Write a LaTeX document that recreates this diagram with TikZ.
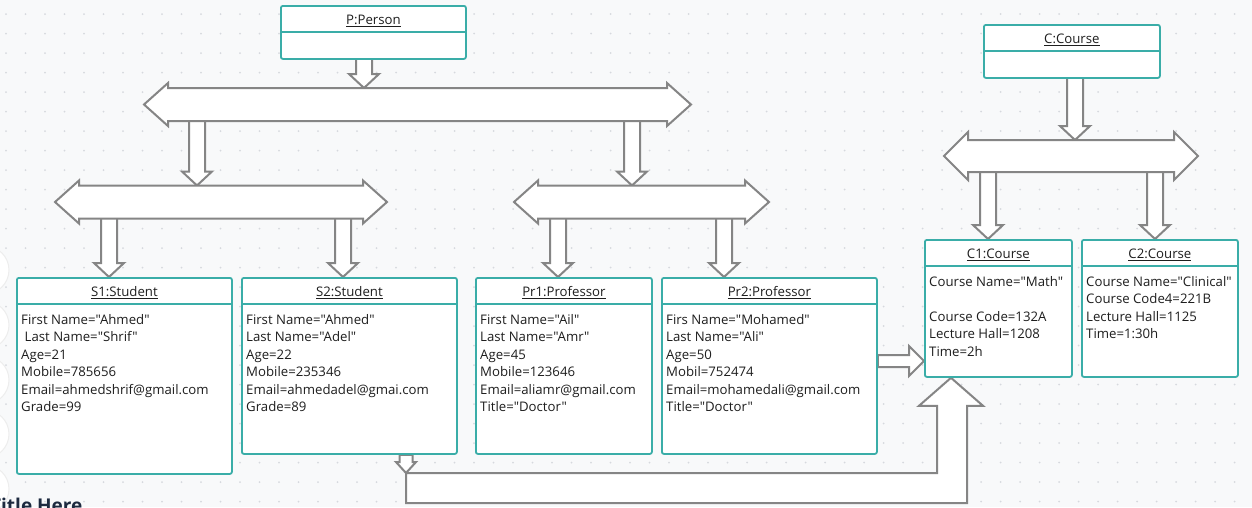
\documentclass[tikz,border=0pt]{standalone}
\usepackage{fontspec}
\setmainfont{Open Sans}[Ligatures=TeXOff]
\usepackage{xcolor}
\definecolor{objteal}{HTML}{3AADA8}
\definecolor{arrowgray}{HTML}{858585}
\definecolor{ink}{HTML}{1E1E1E}
\definecolor{canvas}{HTML}{F8F9FA}
\definecolor{griddot}{HTML}{D6D9DE}
\definecolor{titleink}{HTML}{1D2A3F}
\usepackage{tikz}
\usetikzlibrary{calc}
\pgfdeclarelayer{background}
\pgfdeclarelayer{links}
\pgfsetlayers{background,links,main}

\newcommand{\bodyfont}{\fontsize{13.2}{17.5}\selectfont}

% hollow block arrow pointing down, at abscissa #1, from #2 to #3
\newcommand{\downblock}[3]{%
	\draw[blockarrow] let \p1=(#1,0 |- #2), \p2=(#1,0 |- #3) in
		(\x1-8,\y1) -- (\x1-8,\y2+14) -- (\x1-15,\y2+14) -- (\p2)
		-- (\x1+15,\y2+14) -- (\x1+8,\y2+14) -- (\x1+8,\y1) -- cycle;
}

% two-headed junction bar: name, centre, shaft length, shaft half height, head extend
\newcommand{\dblbar}[5]{%
	\node[bar, minimum width=#3, minimum height=2*#4] (#1) at (#2) {};
	\draw[blockarrow] let \p1=(#1.west), \p2=(#1.east) in
		(\x1,\y1+#4) -- (\x2,\y2+#4) -- (\x2,\y2+#4+#5) -- (\x2+24,\y2)
		-- (\x2,\y2-#4-#5) -- (\x2,\y2-#4) -- (\x1,\y1-#4) -- (\x1,\y1-#4-#5)
		-- (\x1-24,\y1) -- (\x1,\y1+#4+#5) -- cycle;
}

\begin{document}
\begin{tikzpicture}[
		x=1pt, y=-1pt,
		obj/.style={
			draw=objteal,
			line width=1.8pt,
			fill=white,
			rounded corners=2pt,
			anchor=north west,
			inner sep=0
		},
		objline/.style={
			draw=objteal,
			line width=1.8pt
		},
		objtitle/.style={
			anchor=base,
			inner sep=0,
			font=\bodyfont,
			text=ink
		},
		objtext/.style={
			anchor=north west,
			inner sep=0,
			align=left,
			font=\bodyfont,
			text=ink
		},
		bar/.style={
			inner sep=0,
			outer sep=0
		},
		blockarrow/.style={
			draw=arrowgray,
			line width=2pt,
			fill=white
		}
	]
	\useasboundingbox (0,0) rectangle (1252,507);

	% Canvas with dot grid
	\begin{pgfonlayer}{background}
		\fill[canvas] (0,0) rectangle (1252,507);
		\foreach \i in {0,...,63}
			\foreach \j in {0,...,25}
				\fill[griddot] (6+19.5*\i,14+19.5*\j) circle (1);
		\foreach \cy in {270,325,380,434,489}
			\draw[black!7, fill=white, line width=1pt] (-15,\cy) circle (24);
	\end{pgfonlayer}

	% Class objects
	\node[obj, minimum width=185, minimum height=53] (p) at (280,5) {};
	\node[objtitle] (p-title) at ([yshift=-19.5]p.north) {\underline{P:Person}};
	\draw[objline] ([yshift=-27]p.north west) -- ([yshift=-27]p.north east);

	\node[obj, minimum width=176, minimum height=53] (c) at (983,24) {};
	\node[objtitle] (c-title) at ([yshift=-19.5]c.north) {\underline{C:Course}};
	\draw[objline] ([yshift=-27]c.north west) -- ([yshift=-27]c.north east);

	% Junction bars
	\dblbar{dbl1}{417.5,104.5}{499}{16.5}{5}
	\dblbar{dbl2}{221,202}{284}{16.5}{5}
	\dblbar{dbl3}{641.5,202}{207}{16.5}{5}
	\dblbar{dbl4}{1071,156}{206}{16}{8}

	% Students
	\node[obj, minimum width=215, minimum height=196] (s1) at (16,277) {};
	\node[objtitle] (s1-title) at ([yshift=-19.5]s1.north) {\underline{S1:Student}};
	\draw[objline] ([yshift=-27]s1.north west) -- ([yshift=-27]s1.north east);
	\node[objtext] (s1-text) at ([xshift=5,yshift=-37]s1.north west) {%
		First Name="Ahmed"\\
		\hspace{3.5pt}Last Name="Shrif"\\
		Age=21\\
		Mobile=785656\\
		Email=ahmedshrif@gmail.com\\
		Grade=99
	};

	\node[obj, minimum width=215, minimum height=176] (s2) at (241,277) {};
	\node[objtitle] (s2-title) at ([yshift=-19.5]s2.north) {\underline{S2:Student}};
	\draw[objline] ([yshift=-27]s2.north west) -- ([yshift=-27]s2.north east);
	\node[objtext] (s2-text) at ([xshift=5,yshift=-37]s2.north west) {%
		First Name="Ahmed"\\
		Last Name="Adel"\\
		Age=22\\
		Mobile=235346\\
		Email=ahmedadel@gmai.com\\
		Grade=89
	};

	% Professors
	\node[obj, minimum width=176, minimum height=176] (pr1) at (475,277) {};
	\node[objtitle] (pr1-title) at ([yshift=-19.5]pr1.north) {\underline{Pr1:Professor}};
	\draw[objline] ([yshift=-27]pr1.north west) -- ([yshift=-27]pr1.north east);
	\node[objtext] (pr1-text) at ([xshift=5,yshift=-37]pr1.north west) {%
		First Name="Ail"\\
		Last Name="Amr"\\
		Age=45\\
		Mobile=123646\\
		Email=aliamr@gmail.com\\
		Title="Doctor"
	};

	\node[obj, minimum width=215, minimum height=176] (pr2) at (661,277) {};
	\node[objtitle] (pr2-title) at ([yshift=-19.5]pr2.north) {\underline{Pr2:Professor}};
	\draw[objline] ([yshift=-27]pr2.north west) -- ([yshift=-27]pr2.north east);
	\node[objtext] (pr2-text) at ([xshift=5,yshift=-37]pr2.north west) {%
		Firs Name="Mohamed"\\
		Last Name="Ali"\\
		Age=50\\
		Mobil=752474\\
		Email=mohamedali@gmail.com\\
		Title="Doctor"
	};

	% Courses
	\node[obj, minimum width=147, minimum height=137] (c1) at (924,239) {};
	\node[objtitle] (c1-title) at ([yshift=-19.5]c1.north) {\underline{C1:Course}};
	\draw[objline] ([yshift=-27]c1.north west) -- ([yshift=-27]c1.north east);
	\node[objtext] (c1-text) at ([xshift=5,yshift=-37]c1.north west) {%
		Course Name="Math"\\[17.5pt]
		Course Code=132A\\
		Lecture Hall=1208\\
		Time=2h
	};

	\node[obj, minimum width=156, minimum height=137] (c2) at (1081,239) {};
	\node[objtitle] (c2-title) at ([yshift=-19.5]c2.north) {\underline{C2:Course}};
	\draw[objline] ([yshift=-27]c2.north west) -- ([yshift=-27]c2.north east);
	\node[objtext] (c2-text) at ([xshift=5,yshift=-37]c2.north west) {%
		Course Name="Clinical"\\
		Course Code4=221B\\
		Lecture Hall=1125\\
		Time=1:30h
	};

	\node[anchor=north west, inner sep=0, font=\bfseries\fontsize{19}{22}\selectfont,
		text=titleink] (page-title) at (-10,498) {Title Here};

	% Block arrows
	\coordinate (turn) at (406,473);
	\begin{pgfonlayer}{links}
		\downblock{364}{p.center}{dbl1.north}
		\downblock{197}{dbl1.center}{dbl2.north}
		\downblock{632}{dbl1.center}{dbl3.north}
		\downblock{109}{dbl2.center}{s1.north}
		\downblock{343}{dbl2.center}{s2.north}
		\downblock{558}{dbl3.center}{pr1.north}
		\downblock{724}{dbl3.center}{pr2.north}
		\downblock{1075}{c.center}{dbl4.north}
		\downblock{988}{dbl4.center}{c1.north}
		\downblock{1155}{dbl4.center}{c2.north}

		\draw[blockarrow] let \p1=(pr2.east |- 0,361), \p2=(c1.west |- 0,361) in
			(\x1,\y1+6) -- (\x2-15,\y1+6) -- (\x2-15,\y1+15) -- (\p2)
			-- (\x2-15,\y1-15) -- (\x2-15,\y1-6) -- (\x1,\y1-6) -- cycle;

		\draw[blockarrow] let \p1=(turn), \p2=(951,0 |- c1.south) in
			(\p1) -- (\x2-14,\y1) -- (\x2-14,\y2-28) -- (\x2-32,\y2-28) -- (\p2)
			-- (\x2+32,\y2-28) -- (\x2+16,\y2-28) -- (\x2+16,\y1-30) -- (\x1,\y1-30) -- cycle;
		\draw[blockarrow] let \p1=(turn |- s2.south), \p2=(turn) in
			(\x1-6.5,\y1) -- (\x1-6.5,\y2+11) -- (\x1-10,\y2+11) -- (\p2)
			-- (\x1+10,\y2+11) -- (\x1+6.5,\y2+11) -- (\x1+6.5,\y1) -- cycle;
	\end{pgfonlayer}

\end{tikzpicture}
\end{document}
